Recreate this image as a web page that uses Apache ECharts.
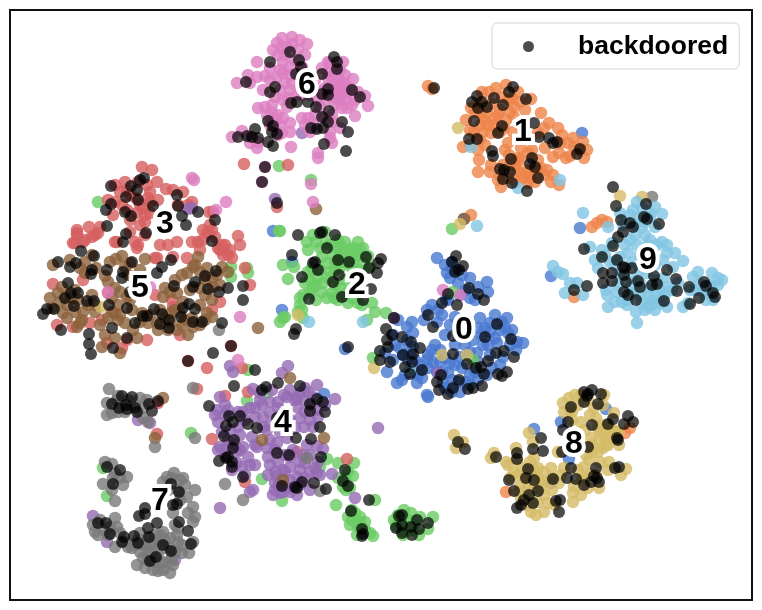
<!DOCTYPE html>
<html><head><meta charset="utf-8">
<style>html,body{margin:0;padding:0;background:#fff}#c{width:762px;height:610px}</style>
<script src="https://cdn.jsdelivr.net/npm/echarts@6/dist/echarts.min.js"></script>
</head><body><div id="c"></div>
<script>
const class0=[[437,258],[445,265],[447,273],[452,268],[458,283],[470,278],[488,292],[487,282],[478,287],[470,298],[460,295],[432,305],[427,310],[424,320],[437,322],[442,315],[455,317],[480,318],[507,318],[502,322],[490,323],[478,328],[490,332],[505,328],[517,342],[523,343],[508,333],[497,343],[473,340],[483,345],[477,353],[503,357],[490,355],[435,345],[428,355],[440,362],[450,363],[460,357],[448,373],[462,368],[470,375],[458,382],[452,380],[487,375],[478,380],[427,395],[428,397],[460,392],[443,383],[407,327],[398,320],[413,333],[407,340],[403,355],[397,383],[402,380],[412,372],[387,372],[417,383],[422,378],[427,360],[413,347],[385,353],[345,349],[282,310],[452,262],[456,270],[450,278],[462,275],[466,290],[475,300],[446,300],[438,310],[450,325],[445,335],[468,325],[495,338],[512,330],[500,365],[478,362],[470,352],[455,345],[440,350],[420,365],[408,360],[395,345],[393,360],[405,375],[415,360],[437,372],[445,388],[470,385],[492,368],[465,345],[482,335],[516,350],[448,300],[428,368],[393,335],[412,322],[445,358],[455,365],[433,362],[485,328],[495,315],[500,330],[510,345],[488,345],[442,372],[452,392],[466,382],[475,372],[410,352],[418,375],[400,348],[432,350]];
const class1=[[428,86],[506,85],[496,88],[489,92],[518,92],[531,99],[509,100],[514,107],[471,108],[466,120],[481,113],[498,115],[506,120],[488,125],[514,117],[541,113],[549,123],[558,128],[544,128],[538,133],[573,138],[583,142],[568,143],[584,158],[574,147],[559,153],[553,157],[463,147],[478,150],[479,160],[478,172],[491,165],[508,143],[509,155],[518,158],[521,148],[528,153],[538,160],[521,173],[516,182],[523,178],[531,175],[544,175],[553,175],[551,182],[559,185],[498,180],[501,187],[528,183],[541,168],[481,125],[474,132],[491,133],[513,132],[471,215],[592,227],[597,223],[602,220],[607,222],[574,297],[506,492],[625,433],[630,428],[502,97],[482,92],[492,104],[475,112],[484,120],[470,130],[480,140],[470,145],[525,110],[500,132],[505,150],[515,165],[503,165],[490,172],[528,170],[535,182],[545,148],[562,135],[578,150],[566,158],[485,145],[495,118],[520,102],[432,89],[487,113],[500,110],[510,112],[494,125],[504,128],[480,103],[512,98],[520,160],[510,165],[530,178],[537,168],[547,170],[500,175],[508,178],[517,170],[532,150],[560,143],[570,156],[587,150],[483,132]];
const class2=[[313,235],[325,232],[307,242],[308,250],[320,248],[345,242],[358,242],[337,248],[353,248],[363,248],[322,257],[333,255],[343,253],[358,255],[327,263],[347,263],[370,267],[335,270],[363,263],[283,265],[294,267],[288,279],[310,280],[317,278],[305,283],[313,288],[323,283],[322,292],[332,293],[340,287],[348,292],[348,303],[358,303],[372,303],[300,298],[300,305],[298,312],[303,318],[285,317],[283,318],[280,322],[386,313],[367,320],[280,231],[98,202],[279,166],[311,180],[279,231],[231,267],[231,277],[248,273],[247,268],[338,463],[327,459],[320,467],[354,463],[348,472],[353,476],[338,478],[343,487],[350,488],[346,490],[375,500],[336,505],[355,513],[348,517],[360,517],[350,525],[357,525],[357,535],[370,533],[373,536],[365,530],[404,510],[411,513],[420,517],[433,517],[394,520],[406,532],[403,535],[419,535],[428,529],[414,525],[409,520],[398,515],[247,401],[267,393],[262,479],[282,501],[191,433],[248,370],[103,468],[107,496],[452,229],[453,292],[473,360],[373,358],[342,262],[330,272],[320,270],[352,268],[345,280],[335,262],[355,285],[312,268],[303,295],[316,300],[327,298],[355,258],[368,256],[338,300],[362,305],[340,245],[330,245],[375,312],[360,522],[352,510],[345,478],[405,524],[412,530],[396,526],[359,528],[338,240],[350,250],[360,250],[340,256],[350,260],[340,268],[328,278],[335,285],[316,285],[310,292],[302,310],[308,272],[326,243],[316,242],[358,270],[352,298],[343,295],[334,298],[352,520],[365,522]];
const class3=[[142,167],[152,170],[125,182],[115,185],[147,185],[157,182],[120,192],[127,190],[150,192],[166,189],[173,190],[183,192],[108,200],[115,202],[143,208],[137,213],[150,213],[145,222],[192,202],[188,205],[213,212],[209,212],[113,215],[77,230],[77,235],[89,227],[100,227],[98,233],[92,237],[75,243],[83,242],[115,242],[135,242],[138,245],[160,245],[168,245],[177,242],[192,242],[198,242],[203,230],[212,230],[207,233],[203,240],[220,250],[230,250],[223,255],[228,255],[238,236],[157,258],[187,258],[173,257],[245,268],[250,285],[53,284],[77,233],[73,243],[95,235],[117,242],[137,248],[155,258],[218,248],[108,293],[155,295],[172,300],[173,307],[212,310],[220,302],[115,313],[102,320],[90,323],[57,325],[73,327],[147,340],[127,340],[107,343],[180,335],[83,280],[244,164],[288,165],[277,207],[207,368],[197,389],[158,403],[157,434],[225,396],[248,392],[212,439],[245,482],[297,452],[242,368],[347,459],[130,195],[136,198],[122,205],[140,225],[130,220],[158,200],[178,205],[168,215],[130,232],[200,250],[225,245],[231,346],[188,361],[122,348],[85,240],[145,235],[138,182],[148,198],[140,205],[150,202],[127,210],[145,215],[210,225],[215,237],[222,245],[232,258],[240,245]];
const class4=[[288,366],[282,373],[253,389],[317,385],[335,399],[230,366],[233,372],[217,410],[218,422],[225,405],[220,397],[260,400],[270,402],[278,402],[250,408],[290,390],[287,397],[300,393],[303,400],[313,397],[325,405],[297,407],[300,418],[317,410],[318,417],[313,427],[304,427],[263,417],[255,417],[263,427],[238,427],[267,430],[287,438],[277,443],[267,448],[257,447],[307,445],[317,446],[323,449],[220,447],[227,447],[218,450],[240,450],[243,447],[248,457],[250,465],[242,467],[237,463],[255,465],[268,457],[270,465],[278,462],[290,467],[300,470],[305,463],[310,472],[317,473],[297,477],[275,483],[273,495],[280,493],[297,495],[250,492],[253,490],[332,474],[378,428],[220,508],[355,498],[290,457],[275,199],[188,209],[192,208],[93,516],[107,542],[175,560],[138,420],[150,423],[438,373],[394,318],[302,133],[270,413],[280,415],[245,420],[230,430],[238,412],[225,415],[290,420],[295,428],[280,432],[252,437],[240,435],[228,440],[222,432],[260,393],[272,390],[305,388],[312,405],[284,395],[295,400],[270,440],[303,455],[293,450],[285,455],[275,472],[283,470],[290,480],[300,485],[310,490],[279,484],[288,488],[237,452],[232,470],[245,475],[255,445],[318,462],[310,455],[320,475],[262,405],[255,408],[243,412],[215,415],[228,410],[270,425],[278,408],[305,412],[310,420],[297,398],[308,392],[275,450],[268,475],[277,476],[305,478],[315,468],[300,462],[285,472],[225,455],[235,445],[283,492],[290,492],[275,490]];
const class5=[[116,259],[145,259],[80,268],[92,255],[53,265],[85,273],[130,263],[125,267],[195,265],[198,257],[187,273],[207,268],[222,267],[217,275],[213,287],[200,288],[193,267],[62,287],[58,293],[50,298],[67,305],[63,313],[83,312],[92,295],[88,305],[108,282],[115,288],[120,292],[112,298],[118,305],[127,297],[118,320],[125,323],[105,335],[115,338],[102,347],[120,353],[137,338],[77,327],[80,323],[165,288],[163,297],[177,293],[170,292],[183,302],[200,305],[212,317],[193,327],[182,325],[177,330],[188,335],[148,323],[157,323],[142,313],[207,313],[67,318],[117,400],[163,398],[155,438],[316,209],[290,378],[324,438],[283,480],[262,440],[258,328],[464,219],[72,298],[75,290],[52,308],[75,312],[95,312],[108,318],[132,310],[130,300],[172,312],[180,313],[192,318],[165,318],[170,322],[168,330],[205,320],[200,325],[220,285],[205,280],[190,290],[182,275],[175,280],[175,310],[160,310],[140,322],[133,330],[105,276],[140,270],[128,275],[70,260],[85,262],[60,302],[100,325],[96,268],[110,262],[122,256],[78,300],[82,320],[70,295],[95,305],[120,315],[112,312],[150,315],[158,330],[185,320],[200,272],[212,278],[228,272],[205,295],[212,300]];
const class6=[[282,38],[292,37],[300,40],[307,44],[277,43],[273,50],[287,47],[298,50],[305,55],[257,62],[278,55],[283,62],[290,67],[302,67],[330,63],[343,62],[340,70],[328,72],[353,79],[333,80],[343,83],[338,90],[347,93],[333,97],[340,100],[347,108],[365,96],[368,106],[355,116],[237,83],[248,75],[257,77],[265,76],[277,77],[283,73],[285,83],[292,83],[263,90],[283,100],[287,107],[258,108],[265,107],[272,112],[278,115],[267,115],[280,125],[290,123],[290,132],[302,118],[308,118],[315,115],[320,107],[305,125],[313,123],[333,122],[340,128],[330,132],[332,143],[330,138],[318,153],[318,158],[291,147],[232,137],[242,131],[250,143],[257,148],[258,142],[250,137],[282,133],[265,167],[262,182],[311,184],[313,202],[226,202],[194,180],[192,178],[216,210],[240,317],[108,292],[150,287],[443,290],[460,295],[238,360],[285,55],[295,60],[280,70],[270,80],[290,90],[300,85],[275,97],[297,95],[315,80],[325,88],[320,92],[332,85],[345,75],[325,100],[310,95],[328,62],[322,68],[312,88],[275,120],[272,105],[345,88],[355,100],[346,98],[315,128],[332,115],[278,135],[290,75],[280,90],[300,75],[318,100],[335,105],[328,78],[338,78],[350,88],[342,108],[352,105],[335,90],[270,125],[283,118],[310,132],[325,118],[288,98],[302,95],[340,94],[345,84],[335,73],[338,100],[358,92],[282,48],[292,44],[270,68],[250,83]];
const class7=[[109,389],[107,403],[107,415],[112,413],[140,398],[147,400],[143,418],[148,422],[155,447],[195,438],[193,388],[105,462],[112,464],[115,473],[120,478],[127,477],[113,478],[103,484],[112,490],[123,485],[115,501],[174,473],[163,482],[183,478],[185,485],[195,490],[187,497],[180,500],[193,507],[195,517],[193,522],[173,513],[93,525],[115,518],[117,527],[95,532],[98,535],[115,547],[120,533],[128,547],[132,548],[140,552],[137,565],[145,568],[153,570],[158,571],[170,573],[173,565],[167,562],[143,558],[152,552],[160,545],[170,538],[163,532],[177,535],[182,545],[182,553],[189,553],[193,542],[147,538],[155,535],[143,545],[170,548],[158,555],[225,484],[243,500],[320,491],[307,458],[219,330],[652,197],[128,400],[120,402],[125,412],[135,404],[118,396],[165,548],[150,545],[162,563],[148,552],[155,562],[175,552],[178,542],[165,540],[175,525],[188,513],[100,520],[104,530],[108,535],[138,540],[180,480],[172,478],[168,490],[135,545],[160,535],[153,543],[148,560],[163,570],[178,528],[172,558],[140,533],[124,542],[110,527],[130,402],[143,408],[118,412],[178,490],[167,477]];
const class8=[[454,435],[463,442],[456,448],[494,453],[491,458],[506,462],[508,465],[516,448],[534,458],[529,433],[533,442],[538,468],[551,468],[544,472],[561,475],[559,483],[518,475],[518,492],[521,498],[538,502],[544,512],[531,512],[536,515],[544,495],[573,502],[581,495],[573,493],[599,488],[588,488],[621,475],[626,469],[609,462],[608,470],[589,460],[598,452],[603,448],[611,438],[619,445],[591,438],[599,440],[598,428],[614,413],[601,425],[581,422],[564,412],[563,403],[569,398],[594,408],[604,395],[581,395],[578,405],[558,452],[614,430],[528,485],[541,482],[620,196],[642,197],[458,128],[460,224],[298,315],[374,368],[442,355],[467,355],[101,307],[525,478],[533,490],[526,495],[510,478],[514,472],[528,505],[540,488],[555,505],[578,470],[585,478],[596,475],[607,445],[612,430],[596,418],[603,405],[588,400],[575,395],[570,410],[572,420],[605,438],[592,452],[584,467],[600,462],[574,486],[552,478],[608,425],[517,460],[520,486],[538,478],[530,462],[592,445],[600,432],[610,432],[585,430],[618,432],[586,455],[582,480],[590,474],[530,472],[548,482],[534,470],[522,468],[552,490],[548,503],[564,468],[572,412],[590,415],[608,445]];
const class9=[[633,210],[637,202],[655,207],[662,214],[640,217],[650,217],[583,213],[642,227],[608,227],[655,227],[620,213],[623,225],[662,242],[657,245],[667,245],[675,253],[683,261],[630,240],[637,245],[628,253],[612,243],[590,247],[595,260],[598,268],[620,257],[663,260],[553,266],[558,272],[563,274],[570,283],[577,283],[565,293],[583,295],[607,295],[608,307],[615,302],[627,305],[648,293],[653,300],[655,310],[648,307],[667,307],[637,323],[642,303],[660,290],[668,287],[683,307],[688,303],[693,277],[698,272],[712,273],[718,278],[718,285],[707,293],[713,300],[695,290],[678,283],[633,293],[640,283],[647,273],[667,253],[653,250],[617,292],[477,226],[471,147],[518,188],[560,180],[309,322],[363,322],[410,370],[635,225],[645,235],[640,255],[650,240],[605,255],[615,265],[632,278],[618,285],[650,302],[640,295],[645,310],[660,303],[636,312],[655,265],[625,245],[650,213],[642,208],[606,290],[628,300],[690,290],[710,285],[722,280],[700,284],[706,300],[630,215],[664,278],[673,267],[657,280],[645,222],[635,235],[648,245],[632,262],[620,275],[640,270],[650,288],[630,288],[622,302],[660,296],[652,305],[665,295],[610,262],[602,250],[672,290],[712,287],[703,292]];
const blueExtras=[[582,133],[580,228],[551,276],[534,429],[561,422],[569,459],[551,483],[606,409],[324,394],[292,262],[273,231],[464,219]];
const backdoored=[[290,52],[270,62],[299,60],[301,67],[334,57],[337,62],[337,69],[296,74],[322,74],[246,82],[275,87],[270,92],[328,89],[322,94],[328,95],[352,90],[360,97],[291,103],[297,102],[308,102],[316,107],[329,111],[322,117],[328,122],[342,122],[348,132],[311,128],[317,129],[323,128],[268,121],[273,126],[272,132],[277,134],[255,129],[238,137],[247,136],[252,137],[258,138],[268,142],[273,146],[324,144],[346,151],[265,167],[262,182],[277,203],
[144,178],[140,180],[111,186],[131,186],[137,190],[126,197],[177,195],[138,200],[111,204],[106,210],[153,206],[178,206],[198,212],[125,212],[131,216],[182,216],[186,225],[215,220],[107,226],[126,234],[146,233],[212,241],[123,242],
[58,262],[76,263],[70,267],[81,251],[94,256],[92,270],[91,274],[107,270],[123,272],[122,278],[132,262],[171,260],[162,267],[157,273],[68,283],[71,293],[78,293],[65,298],[87,301],[94,301],[74,306],[54,309],[47,309],[43,314],[109,305],[127,308],[130,292],[174,286],[195,282],[193,287],[205,276],[216,271],[208,289],[219,292],[228,288],[243,286],[243,300],[189,304],[183,308],[195,309],[154,309],[162,314],[147,316],[143,316],[181,317],[193,322],[202,322],[222,323],[135,323],[160,324],[169,320],[169,328],[112,328],[61,330],[127,338],[89,334],[89,344],[91,354],[113,348],[231,346],[213,353],[188,361],
[122,396],[132,397],[112,404],[126,405],[119,408],[135,408],[137,412],[149,404],[158,401],[152,411],[127,409],[209,406],
[107,467],[120,470],[113,484],[171,484],[179,492],[173,505],[177,504],[145,508],[145,514],[139,516],[98,523],[106,523],[110,534],[124,537],[122,542],[134,536],[138,543],[148,528],[157,523],[149,537],[179,522],[188,531],[191,544],[163,545],[171,551],[156,557],[150,561],
[266,387],[262,390],[278,383],[300,386],[234,386],[255,370],[229,416],[240,416],[233,422],[226,426],[248,424],[257,428],[277,418],[224,436],[234,440],[233,448],[228,457],[226,458],[219,461],[232,462],[232,467],[243,477],[277,453],[289,455],[296,438],[311,439],[320,427],[321,457],[310,404],[317,399],[323,402],[310,411],[325,412],[282,486],[302,482],[297,488],[295,487],[314,483],[326,489],
[345,470],[343,481],[348,486],[369,500],[351,511],[362,529],[363,534],[362,536],[402,515],[417,520],[428,523],[396,528],[402,525],[402,533],[411,527],[419,529],[412,535],[399,516],
[298,235],[320,233],[322,232],[335,235],[327,248],[292,255],[315,262],[313,263],[318,270],[338,260],[349,262],[366,257],[369,268],[378,263],[381,259],[377,273],[302,277],[339,275],[333,282],[342,297],[371,289],[363,300],[309,299],[296,329],[294,334],[348,347],
[456,256],[452,262],[463,266],[459,270],[455,272],[469,288],[478,294],[484,300],[448,294],[442,303],[457,305],[428,315],[433,327],[497,324],[485,337],[511,339],[453,336],[453,354],[514,357],[504,351],[496,353],[488,361],[481,367],[476,368],[467,364],[484,374],[498,374],[502,376],[507,372],[482,386],[473,388],[468,389],[459,380],[453,388],[441,375],[437,382],[439,390],[448,394],[394,318],[386,329],[392,335],[402,337],[387,340],[388,347],[380,351],[411,342],[420,348],[413,354],[403,355],[390,362],[380,360],[412,362],[405,367],[410,374],[422,370],
[434,88],[477,96],[513,87],[509,92],[494,98],[472,102],[482,102],[478,108],[487,107],[503,105],[526,99],[474,121],[502,126],[498,133],[534,123],[469,139],[477,139],[539,137],[549,138],[553,143],[557,142],[580,149],[577,154],[492,151],[493,156],[511,159],[532,158],[530,164],[535,167],[500,169],[504,170],[510,172],[503,179],[512,183],[538,178],[527,191],
[613,187],[616,206],[646,204],[644,217],[647,219],[659,224],[621,220],[630,223],[633,227],[623,232],[618,237],[613,246],[584,249],[602,257],[617,260],[623,267],[625,268],[632,268],[667,270],[603,273],[612,273],[612,281],[603,283],[624,275],[626,282],[638,281],[640,287],[654,276],[652,285],[657,284],[676,279],[677,291],[689,287],[704,282],[706,286],[713,293],[715,297],[699,298],[690,304],[664,301],[636,300],[624,292],[628,295],[587,286],[574,290],
[458,442],[465,449],[496,457],[517,453],[517,459],[541,438],[533,449],[543,451],[528,469],[509,480],[526,478],[534,480],[514,491],[538,491],[529,495],[524,500],[521,505],[517,508],[533,503],[560,500],[556,501],[559,512],[553,479],[567,478],[576,479],[571,468],[584,485],[591,482],[594,476],[596,468],[597,478],[599,482],[615,468],[619,467],[562,452],[588,447],[617,438],[618,440],[563,430],[568,422],[571,407],[584,402],[598,404],[592,425],[608,424],[613,419],[624,424],[628,416],[633,422],[584,392],[592,390],[587,396],[601,394],[588,394]];
const classLabels=["0","1","2","3","4","5","6","7","8","9"];
const labelPoints=[[464,330],[523,132],[357,285],[165,224],[283,423],[140,288],[307,85],[160,501],[574,444],[648,260]];
const classes=[class0.concat(blueExtras),class1,class2,class3,class4,class5,class6,class7,class8,class9];
const palette=["#4878d0","#ee854a","#6acc64","#d65f5f","#956cb4","#8c613c","#dc7ec0","#797979","#d5bb67","#82c6e2"];

const series=classes.map((d,i)=>({type:"scatter",name:"class "+classLabels[i],data:d,symbol:"circle",symbolSize:12.5,
  itemStyle:{color:palette[i],opacity:0.8},z:2+i*0.01,silent:true,animation:false}));
series.push({type:"scatter",name:"backdoored",data:backdoored,symbol:"circle",symbolSize:12,
  itemStyle:{color:"#000",opacity:0.7},z:3,silent:true,animation:false});
series.push({type:"scatter",name:"labels",data:labelPoints.map((p,i)=>({value:p,name:classLabels[i]})),symbolSize:0,z:4,silent:true,animation:false,
  itemStyle:{opacity:1},
  label:{show:true,position:"inside",formatter:"{b}",fontFamily:"Liberation Sans",fontWeight:"bold",fontSize:32,color:"#000",opacity:1,textBorderColor:"#fff",textBorderWidth:8}});

const chart=echarts.init(document.getElementById("c"),null,{renderer:"canvas"});
chart.setOption({animation:false,backgroundColor:"#fff",
  grid:{left:10,top:10,width:742,height:590,show:true,borderColor:"#111",borderWidth:2,backgroundColor:"#fff"},
  xAxis:{type:"value",min:10,max:752,show:false},
  yAxis:{type:"value",min:10,max:600,inverse:true,show:false},
  legend:{show:true,data:["backdoored"],selectedMode:false,left:492,top:23,orient:"horizontal",
    icon:"circle",itemWidth:11,itemHeight:11,padding:[10,11,9,31],borderColor:"#d4d4d4",borderWidth:1,borderRadius:5,backgroundColor:"#fff",z:6,
    textStyle:{fontFamily:"Liberation Sans",fontWeight:"bold",fontSize:26.5,color:"#000",padding:[0,0,0,39]}},
  series});
</script></body></html>
